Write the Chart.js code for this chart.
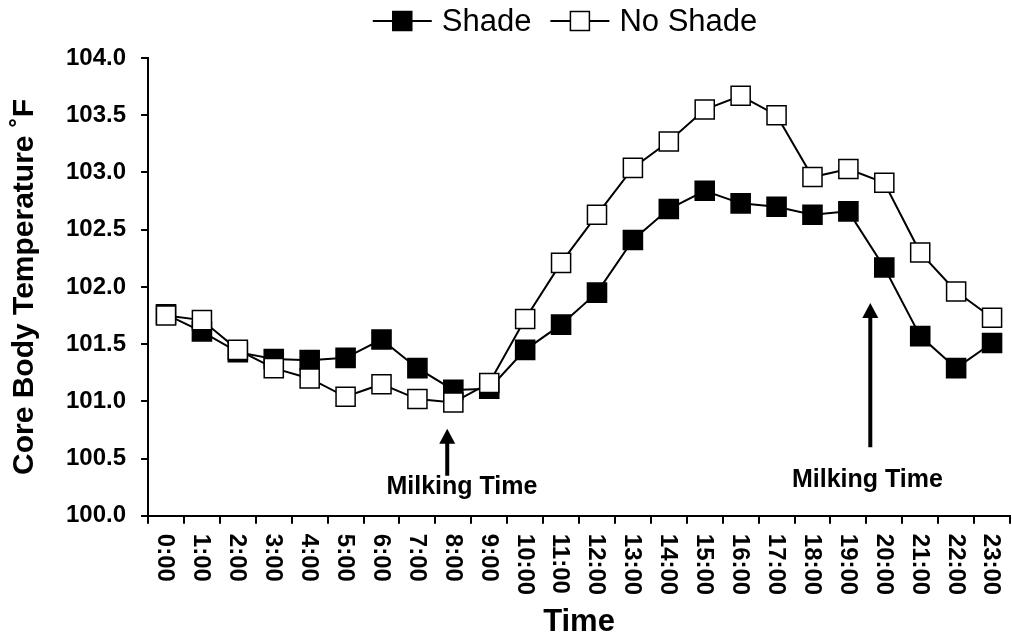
<!DOCTYPE html>
<html>
<head>
<meta charset="utf-8">
<title>Core Body Temperature</title>
<script src="https://cdn.jsdelivr.net/npm/chart.js@4.4.1/dist/chart.umd.min.js"></script>
<style>
  html, body { margin: 0; padding: 0; background: #fff; }
  #wrap { width: 1012px; height: 643px; }
</style>
</head>
<body>
<div id="wrap"><canvas id="tempChart"></canvas></div>
<script>
const hours = ['0:00', '1:00', '2:00', '3:00', '4:00', '5:00', '6:00', '7:00', '8:00', '9:00', '10:00', '11:00',
               '12:00', '13:00', '14:00', '15:00', '16:00', '17:00', '18:00', '19:00', '20:00', '21:00', '22:00', '23:00'];
const shade = [101.76, 101.61, 101.43, 101.37, 101.36, 101.38, 101.54, 101.29, 101.10, 101.11, 101.45, 101.67,
               101.95, 102.41, 102.68, 102.84, 102.73, 102.70, 102.63, 102.66, 102.17, 101.57, 101.29, 101.51];
const noShade = [101.75, 101.71, 101.45, 101.29, 101.20, 101.04, 101.15, 101.02, 100.99, 101.16, 101.72, 102.21,
                 102.63, 103.04, 103.27, 103.55, 103.67, 103.50, 102.96, 103.03, 102.91, 102.30, 101.96, 101.73];
const yMin = 100, yMax = 104, yStep = 0.5;

// milking time notes, in axis units (category index, temperature)
const noteText = 'Milking Time';
const arrowX = [7.83, 19.61];
const arrowFrom = [100.35, 100.60];
const arrowTo = [100.76, 101.86];
const noteX = [8.24, 19.53];
const noteY = [100.25, 100.31];

const fam = '"Liberation Sans", Arial, sans-serif';

// x labels read top to bottom, chart.js only rotates the other way
const hourLabels = {
    id: 'hourLabels',
    afterDraw(chart) {
        const x = chart.scales.x;
        const ctx = chart.ctx;
        ctx.save();
        ctx.font = 'bold 24px ' + fam;
        ctx.fillStyle = '#000';
        ctx.textAlign = 'left';
        ctx.textBaseline = 'middle';
        hours.forEach((h, i) => {
            ctx.save();
            ctx.translate(x.getPixelForValue(i) - 1, x.top + 18);
            ctx.rotate(Math.PI / 2);
            ctx.fillText(h, 0, 0);
            ctx.restore();
        });
        ctx.restore();
    }
};

const milkingNotes = {
    id: 'milkingNotes',
    afterDatasetsDraw(chart) {
        const { x, y } = chart.scales;
        const ctx = chart.ctx;
        ctx.save();
        ctx.fillStyle = '#000';
        ctx.strokeStyle = '#000';
        arrowX.forEach((v, i) => {
            const px = x.getPixelForValue(v);
            const y0 = y.getPixelForValue(arrowFrom[i]);
            const y1 = y.getPixelForValue(arrowTo[i]);
            ctx.lineWidth = 4;
            ctx.beginPath();
            ctx.moveTo(px, y0);
            ctx.lineTo(px, y1 + 12);
            ctx.stroke();
            ctx.beginPath();
            ctx.moveTo(px, y1);
            ctx.lineTo(px - 8, y1 + 15);
            ctx.lineTo(px + 8, y1 + 15);
            ctx.closePath();
            ctx.fill();
        });
        ctx.font = 'bold 25px ' + fam;
        ctx.textAlign = 'center';
        ctx.textBaseline = 'middle';
        noteX.forEach((v, i) => {
            ctx.fillText(noteText, x.getPixelForValue(v), y.getPixelForValue(noteY[i]));
        });
        ctx.restore();
    }
};

const topLegend = {
    id: 'topLegend',
    afterDraw(chart) {
        const ctx = chart.ctx, area = chart.chartArea;
        const lineLen = 59, gapText = 10, gapItem = 19, cy = 21, box = 19;
        ctx.save();
        ctx.font = '31px ' + fam;
        const sets = chart.data.datasets;
        const widths = sets.map(d => ctx.measureText(d.label).width);
        const total = widths.reduce((a, w) => a + lineLen + gapText + w, 0) + gapItem * (widths.length - 1);
        let lx = (area.left + area.right) / 2 - 14 - total / 2;
        sets.forEach((d, i) => {
            ctx.strokeStyle = '#000';
            ctx.lineWidth = 2;
            ctx.beginPath();
            ctx.moveTo(lx, cy);
            ctx.lineTo(lx + lineLen, cy);
            ctx.stroke();
            ctx.fillStyle = d.pointBackgroundColor;
            ctx.fillRect(lx + lineLen / 2 - box / 2, cy - box / 2, box, box);
            ctx.lineWidth = 1.5;
            ctx.strokeRect(lx + lineLen / 2 - box / 2, cy - box / 2, box, box);
            ctx.fillStyle = '#000';
            ctx.textAlign = 'left';
            ctx.textBaseline = 'middle';
            ctx.fillText(d.label, lx + lineLen + gapText, cy + 1);
            lx += lineLen + gapText + widths[i] + gapItem;
        });
        ctx.restore();
    }
};

new Chart(document.getElementById('tempChart'), {
    type: 'line',
    data: {
        labels: hours,
        datasets: [
            { label: 'Shade', data: shade, order: 2, borderColor: '#000', borderWidth: 2, tension: 0,
              pointStyle: 'rect', pointRadius: 13.5, pointHoverRadius: 13.5, pointBorderWidth: 1.5,
              pointBorderColor: '#000', pointBackgroundColor: '#000' },
            { label: 'No Shade', data: noShade, order: 1, borderColor: '#000', borderWidth: 2, tension: 0,
              pointStyle: 'rect', pointRadius: 13.5, pointHoverRadius: 13.5, pointBorderWidth: 1.5,
              pointBorderColor: '#000', pointBackgroundColor: '#fff' }
        ]
    },
    options: {
        animation: false,
        responsive: true,
        maintainAspectRatio: false,
        layout: { autoPadding: false, padding: { top: 58, right: 2, left: 0, bottom: 0 } },
        plugins: { legend: { display: false }, tooltip: { enabled: false } },
        scales: {
            x: {
                offset: true,
                grid: { offset: true, drawOnChartArea: false, tickLength: 8, color: '#000', lineWidth: 2 },
                border: { color: '#000', width: 2 },
                ticks: { display: false, autoSkip: false },
                title: { display: true, text: 'Time', color: '#000', padding: { top: 80, bottom: 2 },
                         font: { family: fam, weight: 'bold', size: 31 } }
            },
            y: {
                min: yMin,
                max: yMax,
                grid: { drawOnChartArea: false, tickLength: 7, color: '#000', lineWidth: 2 },
                border: { color: '#000', width: 2 },
                ticks: { stepSize: yStep, padding: 15, color: '#000', callback: v => v.toFixed(1),
                         font: { family: fam, weight: 'bold', size: 24 } },
                title: { display: true, text: 'Core Body Temperature ˚F', color: '#000', padding: { top: 7, bottom: 8 },
                         font: { family: fam, weight: 'bold', size: 30 } }
            }
        }
    },
    plugins: [hourLabels, milkingNotes, topLegend]
});
</script>
</body>
</html>
